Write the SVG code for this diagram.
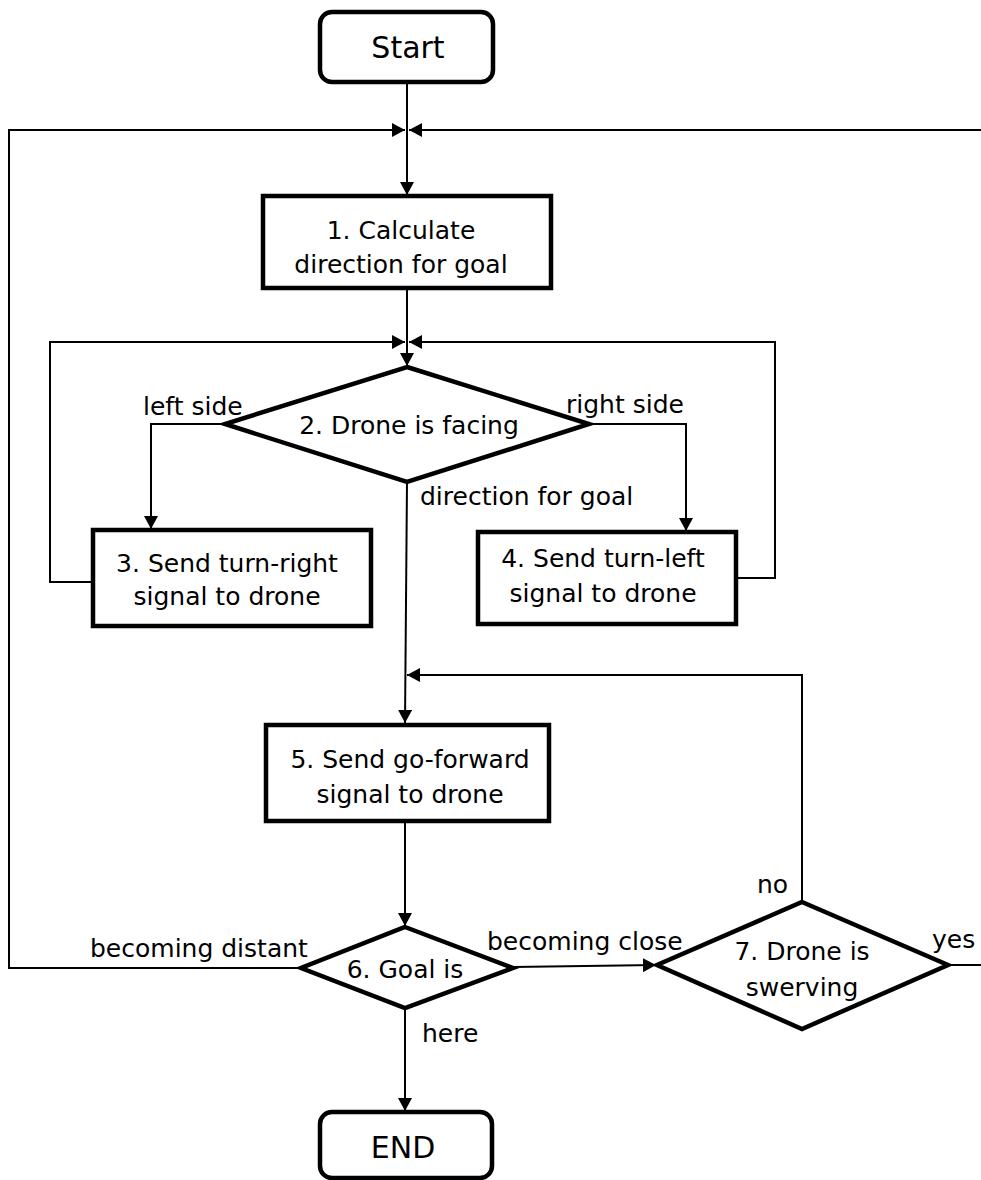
<svg xmlns="http://www.w3.org/2000/svg" width="981" height="1180" viewBox="0 0 981 1180">
<style>
.node{fill:#fff;stroke:#000;stroke-width:4.5}
.t{font-family:"DejaVu Sans",sans-serif;font-size:25px;fill:#000}
.c{text-anchor:middle}
.big{font-size:30px}
.conn{fill:none;stroke:#000;stroke-width:2}
</style>
<defs>
<marker id="ah" markerUnits="userSpaceOnUse" markerWidth="13" markerHeight="14" refX="13" refY="7" orient="auto">
<path d="M0,0 L13,7 L0,14 z" fill="#000"/>
</marker>
</defs>
<g id="connectors">
<path class="conn" d="M407,82 V195" marker-end="url(#ah)"/>
<path class="conn" d="M301,968 H9 V130 H405" marker-end="url(#ah)"/>
<path class="conn" d="M948,965 H995 V130 H409" marker-end="url(#ah)"/>
<path class="conn" d="M407,288 V366" marker-end="url(#ah)"/>
<path class="conn" d="M93,582 H50 V342 H405" marker-end="url(#ah)"/>
<path class="conn" d="M736,578 H775 V342 H409" marker-end="url(#ah)"/>
<path class="conn" d="M225,424 H151 V529" marker-end="url(#ah)"/>
<path class="conn" d="M589,424 H686 V531" marker-end="url(#ah)"/>
<path class="conn" d="M407,482 L405,723" marker-end="url(#ah)"/>
<path class="conn" d="M802,902 V675 H407" marker-end="url(#ah)"/>
<path class="conn" d="M405,821 V926" marker-end="url(#ah)"/>
<path class="conn" d="M513,967 L656,965" marker-end="url(#ah)"/>
<path class="conn" d="M405,1008 V1111" marker-end="url(#ah)"/>
</g>
<g id="start">
<rect class="node" x="320" y="12" width="173" height="70" rx="12"/>
<text class="t c big" x="408" y="58">Start</text>
</g>
<g id="n1">
<rect class="node" x="263" y="196" width="288" height="92"/>
<text class="t c" x="401" y="239">1. Calculate</text>
<text class="t c" x="401" y="273">direction for goal</text>
</g>
<g id="n2">
<polygon class="node" points="407,367 589,424 407,482 225,424"/>
<text class="t c" x="409" y="434">2. Drone is facing</text>
</g>
<g id="n3">
<rect class="node" x="93" y="530" width="278" height="96"/>
<text class="t c" x="227" y="572">3. Send turn-right</text>
<text class="t c" x="227" y="605">signal to drone</text>
</g>
<g id="n4">
<rect class="node" x="478" y="532" width="258" height="92"/>
<text class="t c" x="603" y="567">4. Send turn-left</text>
<text class="t c" x="603" y="602">signal to drone</text>
</g>
<g id="n5">
<rect class="node" x="266" y="725" width="283" height="96"/>
<text class="t c" x="410" y="768">5. Send go-forward</text>
<text class="t c" x="410" y="803">signal to drone</text>
</g>
<g id="n6">
<polygon class="node" points="405,927 513,968 405,1008 301,968"/>
<text class="t c" x="405" y="978">6. Goal is</text>
</g>
<g id="n7">
<polygon class="node" points="802,902 948,965 802,1029 657,965"/>
<text class="t c" x="802" y="960">7. Drone is</text>
<text class="t c" x="802" y="996">swerving</text>
</g>
<g id="end">
<rect class="node" x="320" y="1112" width="172" height="66" rx="12"/>
<text class="t c big" x="403" y="1158">END</text>
</g>
<g id="labels">
<text class="t" x="143" y="415">left side</text>
<text class="t" x="566" y="413">right side</text>
<text class="t" x="420" y="505">direction for goal</text>
<text class="t" x="90" y="957">becoming distant</text>
<text class="t" x="487" y="950">becoming close</text>
<text class="t" x="757" y="893">no</text>
<text class="t" x="932" y="948">yes</text>
<text class="t" x="422" y="1042">here</text>
</g>
</svg>
